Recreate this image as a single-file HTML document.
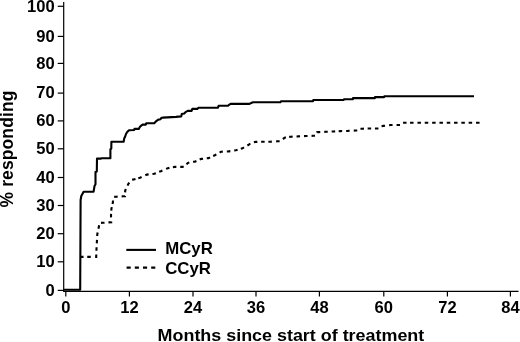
<!DOCTYPE html>
<html><head><meta charset="utf-8"><style>
html,body{margin:0;padding:0;background:#fff;width:520px;height:342px;overflow:hidden}
svg{display:block;filter:grayscale(1)}
text{font-family:"Liberation Sans",sans-serif;font-weight:bold;fill:#000}
</style></head><body>
<svg width="520" height="342" viewBox="0 0 520 342">
<path d="M63.7 2 V291.3 H518.5" fill="none" stroke="#000" stroke-width="1.2"/>
<line x1="57.7" y1="290.40" x2="63.7" y2="290.40" stroke="#000" stroke-width="1.2"/>
<text transform="translate(54.60 295.70) scale(1.035 1)" font-size="16" text-anchor="end" >0</text>
<line x1="57.7" y1="261.80" x2="63.7" y2="261.80" stroke="#000" stroke-width="1.2"/>
<text transform="translate(54.60 267.10) scale(1.035 1)" font-size="16" text-anchor="end" >10</text>
<line x1="57.7" y1="233.70" x2="63.7" y2="233.70" stroke="#000" stroke-width="1.2"/>
<text transform="translate(54.60 239.00) scale(1.035 1)" font-size="16" text-anchor="end" >20</text>
<line x1="57.7" y1="205.50" x2="63.7" y2="205.50" stroke="#000" stroke-width="1.2"/>
<text transform="translate(54.60 210.80) scale(1.035 1)" font-size="16" text-anchor="end" >30</text>
<line x1="57.7" y1="177.50" x2="63.7" y2="177.50" stroke="#000" stroke-width="1.2"/>
<text transform="translate(54.60 182.80) scale(1.035 1)" font-size="16" text-anchor="end" >40</text>
<line x1="57.7" y1="148.80" x2="63.7" y2="148.80" stroke="#000" stroke-width="1.2"/>
<text transform="translate(54.60 154.10) scale(1.035 1)" font-size="16" text-anchor="end" >50</text>
<line x1="57.7" y1="120.90" x2="63.7" y2="120.90" stroke="#000" stroke-width="1.2"/>
<text transform="translate(54.60 126.20) scale(1.035 1)" font-size="16" text-anchor="end" >60</text>
<line x1="57.7" y1="93.10" x2="63.7" y2="93.10" stroke="#000" stroke-width="1.2"/>
<text transform="translate(54.60 98.40) scale(1.035 1)" font-size="16" text-anchor="end" >70</text>
<line x1="57.7" y1="63.40" x2="63.7" y2="63.40" stroke="#000" stroke-width="1.2"/>
<text transform="translate(54.60 68.70) scale(1.035 1)" font-size="16" text-anchor="end" >80</text>
<line x1="57.7" y1="36.40" x2="63.7" y2="36.40" stroke="#000" stroke-width="1.2"/>
<text transform="translate(54.60 41.70) scale(1.035 1)" font-size="16" text-anchor="end" >90</text>
<line x1="57.7" y1="6.30" x2="63.7" y2="6.30" stroke="#000" stroke-width="1.2"/>
<text transform="translate(54.60 11.60) scale(1.035 1)" font-size="16" text-anchor="end" >100</text>
<line x1="65.80" y1="291.3" x2="65.80" y2="296.6" stroke="#000" stroke-width="1.2"/>
<text transform="translate(65.80 313.00) scale(1.035 1)" font-size="16" text-anchor="middle" >0</text>
<line x1="129.40" y1="291.3" x2="129.40" y2="296.6" stroke="#000" stroke-width="1.2"/>
<text transform="translate(129.40 313.00) scale(1.035 1)" font-size="16" text-anchor="middle" >12</text>
<line x1="193.00" y1="291.3" x2="193.00" y2="296.6" stroke="#000" stroke-width="1.2"/>
<text transform="translate(193.00 313.00) scale(1.035 1)" font-size="16" text-anchor="middle" >24</text>
<line x1="256.00" y1="291.3" x2="256.00" y2="296.6" stroke="#000" stroke-width="1.2"/>
<text transform="translate(256.00 313.00) scale(1.035 1)" font-size="16" text-anchor="middle" >36</text>
<line x1="319.40" y1="291.3" x2="319.40" y2="296.6" stroke="#000" stroke-width="1.2"/>
<text transform="translate(319.40 313.00) scale(1.035 1)" font-size="16" text-anchor="middle" >48</text>
<line x1="383.80" y1="291.3" x2="383.80" y2="296.6" stroke="#000" stroke-width="1.2"/>
<text transform="translate(383.80 313.00) scale(1.035 1)" font-size="16" text-anchor="middle" >60</text>
<line x1="447.40" y1="291.3" x2="447.40" y2="296.6" stroke="#000" stroke-width="1.2"/>
<text transform="translate(447.40 313.00) scale(1.035 1)" font-size="16" text-anchor="middle" >72</text>
<line x1="510.40" y1="291.3" x2="510.40" y2="296.6" stroke="#000" stroke-width="1.2"/>
<text transform="translate(510.40 313.00) scale(1.035 1)" font-size="16" text-anchor="middle" >84</text>
<path d="M80.60 256.90 L83.55 256.90M87.25 256.90 L90.75 256.90M95.14 256.90 L96.20 256.90 L96.29 254.46M96.43 250.75 L96.50 249.00 L96.59 247.25M96.81 243.35 L96.99 239.85M97.21 235.95 L97.30 234.20 L97.66 232.49M98.44 228.71 L98.80 227.00 L99.14 225.28M101.05 222.91 L102.80 222.80 L104.54 222.68M108.47 222.39 L111.20 222.20 L111.18 221.43M111.05 217.35 L111.00 215.60 L111.10 213.85M111.30 210.57 L111.40 208.80 L111.79 207.12M112.51 204.01 L112.90 202.30 L113.00 200.55M114.15 196.89 L115.90 196.70 L117.64 196.61M121.66 196.39 L123.40 196.30 L125.00 196.20 L125.01 196.05M125.14 192.35 L125.20 190.60 L125.94 189.02M127.56 185.58 L128.30 184.00 L129.28 182.55M132.09 179.77 L133.80 179.40 L135.49 178.94M138.31 178.16 L140.00 177.70 L141.60 176.98M145.30 175.32 L146.90 174.60 L148.64 174.41M152.46 173.99 L154.20 173.80 L155.83 173.16M159.17 171.84 L160.80 171.20 L162.40 170.50M166.10 168.90 L167.70 168.20 L169.42 167.88M172.88 167.22 L174.60 166.90 L176.35 166.90M180.25 166.90 L182.00 166.90 L183.74 166.76M186.54 164.41 L187.70 163.10 L189.28 162.34M193.05 161.81 L194.80 161.70 L196.41 161.01M199.69 159.59 L201.30 158.90 L203.04 158.71M206.76 158.29 L208.50 158.10 L210.09 157.37M213.21 155.93 L214.80 155.20 L216.33 154.35M219.57 152.55 L221.10 151.70 L222.85 151.63M226.85 151.47 L228.60 151.40 L230.33 151.12M234.17 150.48 L235.90 150.20 L237.58 149.72M240.82 148.78 L242.50 148.30 L244.02 147.42M247.38 145.48 L248.90 144.60 L250.29 143.54M253.90 142.31 L255.60 141.90 L257.35 141.85M261.15 141.75 L262.90 141.70 L264.65 141.70M268.35 141.70 L270.10 141.70 L271.85 141.61M276.15 141.39 L277.90 141.30 L279.65 141.24M282.98 139.16 L284.20 137.90 L285.87 137.36M289.16 136.83 L290.90 136.70 L292.65 136.63M296.55 136.47 L298.30 136.40 L300.05 136.31M304.05 136.09 L305.80 136.00 L307.55 135.95M311.55 135.85 L313.30 135.80 L315.05 135.74M316.93 132.53 L317.00 132.30 L318.50 132.10 L320.25 132.03M324.25 131.87 L326.00 131.80 L327.75 131.73M331.65 131.57 L333.40 131.50 L335.15 131.40M338.65 131.20 L340.40 131.10 L342.15 131.05M346.15 130.95 L347.90 130.90 L349.65 130.81M353.75 130.59 L355.50 130.50 L357.25 130.43M360.45 128.76 L362.20 128.70 L363.95 128.65M367.65 128.55 L369.40 128.50 L371.15 128.50M374.95 128.50 L376.70 128.50 L378.45 128.45M381.57 126.19 L383.30 125.90 L385.04 125.69M389.06 125.21 L390.80 125.00 L392.55 125.00M396.55 125.00 L398.30 125.00 L400.05 124.95M403.05 122.78 L404.80 122.70 L406.55 122.70M410.05 122.70 L413.55 122.70M417.45 122.70 L420.95 122.70M424.75 122.70 L428.25 122.70M432.15 122.70 L435.65 122.70M439.45 122.70 L442.95 122.70M446.75 122.70 L450.25 122.70M454.05 122.70 L457.55 122.70M461.35 122.70 L464.85 122.70M468.65 122.70 L472.15 122.70M476.05 122.70 L479.55 122.70" fill="none" stroke="#000" stroke-width="2.1"/>
<path d="M63.5 289.7 L80.2 289.7 L80.6 200.0 L81.3 196.0 L83.6 191.8 L93.6 191.7 L94.5 186.0 L95.5 184.3 L95.5 172.0 L96.8 171.5 L97.0 158.6 L101.0 158.6 L101.2 158.2 L110.4 158.2 L110.4 149.2 L111.3 148.6 L111.4 141.7 L123.6 141.7 L124.2 138.5 L125.2 136.5 L126.0 134.0 L127.2 132.0 L129.0 130.2 L134.2 130.0 L134.5 128.9 L138.8 128.9 L139.8 127.1 L141.6 125.3 L142.6 124.6 L145.8 124.6 L146.2 123.3 L154.2 123.3 L156.6 120.8 L158.3 119.6 L160.5 119.2 L161.2 118.1 L163.0 117.6 L176.0 116.9 L181.3 116.4 L181.7 114.1 L184.3 113.5 L185.5 112.1 L187.7 110.9 L191.6 110.9 L192.3 108.9 L197.3 108.9 L198.4 107.8 L218.0 107.8 L218.6 105.8 L228.0 105.7 L228.6 105.2 L230.6 103.9 L249.5 103.9 L250.6 103.3 L253.0 102.3 L280.4 102.3 L281.0 101.2 L313.0 101.2 L313.3 100.0 L343.7 100.0 L344.0 99.2 L352.9 99.2 L353.0 98.1 L375.0 98.1 L375.0 97.1 L384.2 97.1 L384.4 96.2 L474.0 96.2" fill="none" stroke="#000" stroke-width="2.1" stroke-linejoin="round"/>
<line x1="126.3" y1="249.9" x2="156" y2="249.9" stroke="#000" stroke-width="2.1"/>
<line x1="126.6" y1="267.6" x2="156" y2="267.6" stroke="#000" stroke-width="2.1" stroke-dasharray="4.1 4.1"/>
<text transform="translate(165.20 254.30) scale(1.05 1)" font-size="16" >MCyR</text>
<text transform="translate(165.20 273.90) scale(1.05 1)" font-size="16" >CCyR</text>
<text transform="translate(157.60 341.00) scale(1.054 1)" font-size="17" >Months since start of treatment</text>
<text transform="translate(12.8 207.5) scale(1 1) rotate(-90)" x="0" y="0" font-size="17.5" textLength="117" lengthAdjust="spacing">% responding</text>
</svg>
</body></html>
